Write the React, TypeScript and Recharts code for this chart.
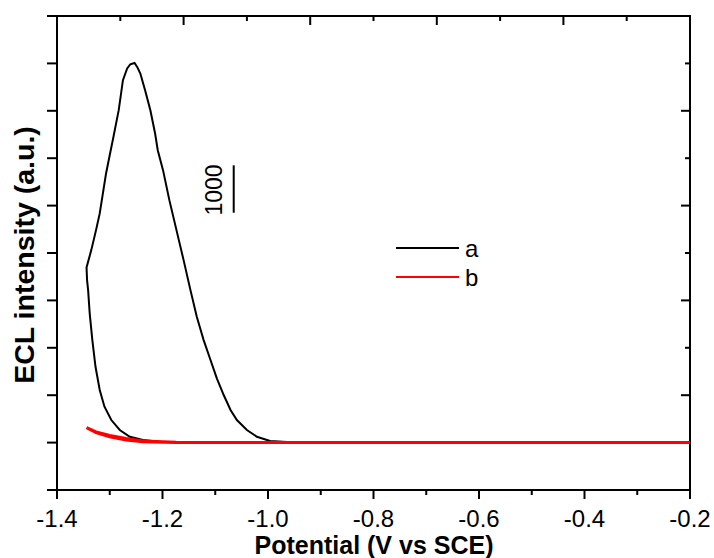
import React from "react";
import {
  LineChart,
  Line,
  XAxis,
  YAxis,
  Legend,
  ReferenceLine,
  Label,
} from "recharts";

// curve a: potential (V vs SCE) and ECL intensity, one full scan loop
const potentialA = [
  -0.2, -0.5, -0.8, -0.933, -0.964, -0.996, -1.021, -1.04, -1.059, -1.071,
  -1.084, -1.097, -1.109, -1.122, -1.135, -1.147, -1.16, -1.169, -1.187,
  -1.199, -1.209, -1.214, -1.223, -1.233, -1.242, -1.248, -1.253, -1.261,
  -1.267, -1.275, -1.283, -1.293, -1.302, -1.307, -1.313, -1.319, -1.326,
  -1.335, -1.344, -1.343, -1.341, -1.338, -1.333, -1.327, -1.319, -1.31,
  -1.297, -1.281, -1.262, -1.237, -1.206, -1.174, -1.1, -0.9, -0.6, -0.2,
];
const intensityA = [
  0, 0, 0, 6, 13, 34, 124, 266, 476, 687, 1004, 1356, 1742, 2163, 2654, 3217,
  3850, 4272, 5115, 5748, 6169, 6521, 7013, 7434, 7786, 7926, 8010, 7982,
  7892, 7645, 7013, 6450, 5958, 5678, 5256, 4835, 4482, 4061, 3696, 3428,
  3217, 2726, 2163, 1600, 1109, 757, 476, 266, 124, 55, 19, 13, 5, 0, 0, 0,
];

// curve b
const potentialB = [
  -0.2, -0.6, -1.0, -1.174, -1.237, -1.269, -1.3, -1.326, -1.344, -1.326,
  -1.3, -1.269, -1.237, -1.174, -1.0, -0.2,
];
const intensityB = [
  0, 0, 0, 0, 19, 55, 124, 209, 314, 224, 150, 86, 34, 8, 0, 0,
];

const xDomain = [-1.4, -0.2];
const yDomain = [-1000, 9000];
const xTicks = [
  -1.4, -1.3, -1.2, -1.1, -1.0, -0.9, -0.8, -0.7, -0.6, -0.5, -0.4, -0.3, -0.2,
];
// the top frame has its own 10 equal divisions
const topTicks = [
  -1.4, -1.28, -1.16, -1.04, -0.92, -0.8, -0.68, -0.56, -0.44, -0.32, -0.2,
];
const yTicks = [-1000, 0, 1000, 2000, 3000, 4000, 5000, 6000, 7000, 8000, 9000];

const scaleBarX = -1.065;
const scaleBarFrom = 4850;
const scaleBarSize = 1000;

const seriesA = potentialA.map((x, i) => ({ x, y: intensityA[i] }));
const seriesB = potentialB.map((x, i) => ({ x, y: intensityB[i] }));

const FONT = "'Liberation Sans', Arial, sans-serif";

const CHART_W = 714;
const CHART_H = 558;
const MARGIN = { top: 16, right: 24, bottom: 0, left: 0 };
const Y_AXIS_W = 57;
const PLOT_W = CHART_W - MARGIN.left - MARGIN.right - Y_AXIS_W;

const BottomTick = (props: any) => {
  const { x, y, payload } = props;
  const v = payload.value;
  const major = Math.round(v * 10) % 2 === 0;
  return (
    <g>
      <line x1={x} y1={y} x2={x} y2={y + (major ? 9 : 5)} stroke="#000" strokeWidth={2} />
      {major && (
        <text x={x} y={y + 37} textAnchor="middle" fontSize={24} fontFamily={FONT} fill="#000">
          {v.toFixed(1)}
        </text>
      )}
    </g>
  );
};

const LeftTick = (props: any) => {
  const { x, y } = props;
  return <line x1={x} y1={y} x2={x - 10} y2={y} stroke="#000" strokeWidth={2} />;
};

// short inward tick at the top frame; the first one also draws the top frame line
const topTickShape = (len: number, withFrame: boolean) => (p: any) => {
  const x = p.x1;
  const y = Math.min(p.y1, p.y2);
  return (
    <g>
      <line x1={x} y1={y} x2={x} y2={y + len} stroke="#000" strokeWidth={2} />
      {withFrame && (
        <line x1={x - 1} y1={y} x2={x + PLOT_W + 1} y2={y} stroke="#000" strokeWidth={2} />
      )}
    </g>
  );
};

// short inward tick at the right frame
const rightTickShape = (len: number) => (p: any) => {
  const x = Math.max(p.x1, p.x2);
  const y = p.y1;
  return <line x1={x} y1={y} x2={x - len} y2={y} stroke="#000" strokeWidth={2} />;
};

const renderLegend = (props: any) => {
  const { payload } = props;
  return (
    <div style={{ fontFamily: FONT, fontSize: 24, color: "#000" }}>
      {payload.map((entry: any) => (
        <div
          key={entry.value}
          style={{ display: "flex", alignItems: "center", height: 29.6 }}
        >
          <svg width={63} height={4}>
            <line x1={0} y1={2} x2={63} y2={2} stroke={entry.color} strokeWidth={2} />
          </svg>
          <span style={{ marginLeft: 6, lineHeight: 1, marginTop: 2 }}>{entry.value}</span>
        </div>
      ))}
    </div>
  );
};

const axisLine = { stroke: "#000", strokeWidth: 2 };

export default function App() {
  return (
    <div style={{ position: "absolute", left: 0, top: 0, background: "#fff" }}>
      <LineChart width={CHART_W} height={CHART_H} margin={MARGIN}>
        <XAxis
          dataKey="x"
          type="number"
          domain={xDomain}
          ticks={xTicks}
          interval={0}
          allowDataOverflow
          height={68}
          axisLine={axisLine}
          tickLine={false}
          tickSize={0}
          tickMargin={0}
          tick={<BottomTick />}
        >
          <Label
            content={() => (
              <text
                x={374}
                y={554}
                textAnchor="middle"
                fontSize={25}
                fontWeight="bold"
                fontFamily={FONT}
                fill="#000"
              >
                Potential (V vs SCE)
              </text>
            )}
          />
        </XAxis>
        <YAxis
          type="number"
          domain={yDomain}
          ticks={yTicks}
          interval={0}
          allowDataOverflow
          width={Y_AXIS_W}
          axisLine={axisLine}
          tickLine={false}
          tickSize={0}
          tickMargin={0}
          tick={<LeftTick />}
        >
          <Label
            content={() => (
              <text
                x={34}
                y={255}
                transform="rotate(-90, 34, 255)"
                textAnchor="middle"
                fontSize={28.5}
                fontWeight="bold"
                fontFamily={FONT}
                fill="#000"
              >
                ECL intensity (a.u.)
              </text>
            )}
          />
        </YAxis>

        {/* right frame with inward ticks, top frame with inward ticks */}
        <ReferenceLine
          segment={[
            { x: xDomain[1], y: yDomain[0] },
            { x: xDomain[1], y: yDomain[1] },
          ]}
          stroke="#000"
          strokeWidth={2}
          ifOverflow="visible"
        />
        {topTicks.map((t, i) => (
          <ReferenceLine
            key={`t${i}`}
            x={t}
            ifOverflow="visible"
            shape={topTickShape(i % 2 === 0 ? 9 : 5, i === 0)}
          />
        ))}
        {yTicks.map((t, i) => (
          <ReferenceLine
            key={`r${i}`}
            y={t}
            ifOverflow="visible"
            shape={rightTickShape(i % 2 === 0 ? 9 : 5)}
          />
        ))}

        <Line
          data={seriesA}
          dataKey="y"
          name="a"
          type="linear"
          stroke="#000000"
          strokeWidth={2}
          dot={false}
          isAnimationActive={false}
        />
        <Line
          data={seriesB}
          dataKey="y"
          name="b"
          type="linear"
          stroke="#ff0000"
          strokeWidth={3}
          dot={false}
          isAnimationActive={false}
        />
        <ReferenceLine
          segment={[
            { x: scaleBarX, y: scaleBarFrom },
            { x: scaleBarX, y: scaleBarFrom + scaleBarSize },
          ]}
          stroke="#000"
          strokeWidth={2}
          label={
            <Label
              content={() => (
                <text
                  x={222}
                  y={190}
                  transform="rotate(-90, 222, 190)"
                  textAnchor="middle"
                  fontSize={23}
                  fontFamily={FONT}
                  fill="#000"
                >
                  {String(scaleBarSize)}
                </text>
              )}
            />
          }
        />
        <Legend
          layout="vertical"
          align="center"
          verticalAlign="middle"
          wrapperStyle={{ left: 396, top: 233, width: "auto" }}
          content={renderLegend}
        />
      </LineChart>
    </div>
  );
}
